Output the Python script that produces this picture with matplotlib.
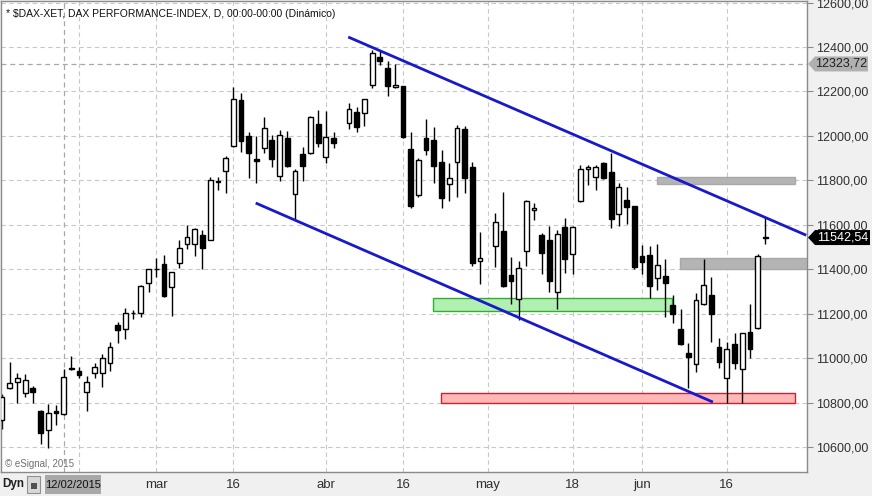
import matplotlib
matplotlib.use("Agg")
import matplotlib.pyplot as plt
from matplotlib.patches import Rectangle, Polygon
from matplotlib.transforms import IdentityTransform
from matplotlib import font_manager
import numpy as np
import pandas as pd

# ---------------- data ----------------
# trading-day slots (Xetra calendar as shown by the chart; Apr 3 and May 1 are empty slots)
dates = [d for d in pd.bdate_range("2015-02-02", "2015-06-23")
         if d.strftime("%Y-%m-%d") not in ("2015-04-06", "2015-05-25")]

opens = [10722, 10866, 10892, 10843, 10866, 10762, 10676, 10762, 10748, 10951,
         10942, 10848, 10933, 10933, 10978, 11149, 11131, 11201, 11203, 11338,
         11401, 11423, 11320, 11428, 11513, 11513, 11554, 11531, 11792, 11842,
         11954, 12161, 12000, 11896, 11945, 11981, 11819, 11990, 11738, 11918,
         11923, 12053, 11905, 11990, None, 12058, 12107, 12103, 12229, 12355,
         12305, 12220, 12224, 11941, 11734, 11990, 11981, 11882, 11783, 11882,
         12031, 11860, 11437, None, 11504, 11572, 11374, 11266, 11482, 11666,
         11554, 11531, 11297, 11590, 11468, 11707, 11853, 11815, 11878, 11837,
         11648, 11711, 11684, 11459, 11464, 11360, 11369, 11239, 11131, 11023,
         10973, 11243, 11284, 11050, 10910, 11063, 10949, 11117, 11135, 11546]
highs = [10838, 10982, 10933, 10928, 10874, 10766, 10793, 10789, 10951, 11009,
         10960, 10920, 10978, 11018, 11072, 11162, 11225, 11216, 11329, 11401,
         11450, 11464, 11388, 11531, 11599, 11585, 11576, 11815, 11815, 11909,
         12220, 12193, 12017, 12000, 12085, 12004, 12026, 12022, 11851, 11950,
         12089, 12116, 12112, 12017, None, 12148, 12130, 12168, 12386, 12382,
         12337, 12323, 12226, 12017, 11900, 12076, 12040, 11936, 11878, 12049,
         12044, 11882, 11567, None, 11653, 11747, 11455, 11437, 11711, 11698,
         11563, 11594, 11576, 11630, 11594, 11869, 11869, 11869, 11882, 11923,
         11788, 11770, 11686, 11509, 11504, 11513, 11446, 11284, 11221, 11068,
         11293, 11446, 11365, 11090, 11072, 11113, 11115, 11243, 11468, 11635]
lows = [10681, 10861, 10798, 10825, 10798, 10613, 10595, 10699, 10745, 10946,
        10910, 10762, 10910, 10870, 10942, 11068, 11086, 11176, 11185, 11297,
        11365, 11275, 11190, 11405, 11491, 11459, 11401, 11531, 11756, 11743,
        11950, 11927, 11810, 11788, 11923, 11860, 11797, 11860, 11621, 11797,
        11918, 11950, 11878, 11945, None, 12031, 12017, 12044, 12215, 12319,
        12179, 12215, 11990, 11675, 11725, 11914, 11788, 11675, 11707, 11725,
        11743, 11414, 11333, None, 11410, 11320, 11243, 11171, 11414, 11621,
        11378, 11297, 11221, 11383, 11378, 11702, 11779, 11756, 11806, 11585,
        11594, 11603, 11401, 11378, 11270, 11306, 11185, 11158, 11059, 10865,
        10937, 11239, 11072, 10955, 10798, 10951, 10798, 11000, 11130, 11513]
closes = [10825, 10888, 10910, 10901, 10848, 10663, 10753, 10753, 10915, 10955,
          10924, 10892, 10960, 11000, 11050, 11126, 11203, 11205, 11324, 11401,
          11403, 11280, 11388, 11495, 11545, 11581, 11495, 11801, 11797, 11900,
          12166, 11977, 11923, 11887, 12035, 11896, 12004, 11864, 11842, 11864,
          12085, 11968, 11995, 11968, None, 12121, 12040, 12166, 12373, 12337,
          12224, 12229, 11995, 11684, 11891, 11936, 11864, 11720, 11810, 12035,
          11810, 11428, 11450, None, 11612, 11324, 11347, 11405, 11707, 11675,
          11473, 11347, 11558, 11446, 11590, 11851, 11858, 11860, 11810, 11626,
          11770, 11680, 11410, 11432, 11324, 11419, 11338, 11198, 11063, 11005,
          11261, 11329, 11198, 10982, 11041, 10978, 11111, 11041, 11459, 11542.54]

# x-axis labels (slot dates)
tick_dates = ["2015-02-16", "2015-03-02", "2015-03-16", "2015-04-01", "2015-04-16",
              "2015-05-01", "2015-05-18", "2015-06-01", "2015-06-16"]
tick_labels = ["", "mar", "16", "abr", "16", "may", "18", "jun", "16"]
y_ticks = [10600, 10800, 11000, 11200, 11400, 11600, 11800, 12000, 12200, 12400, 12600]

# drawn channel lines (slot, price)
upper_line_x = [44.9, 104.3]
upper_line_y = [12445, 11553]
lower_line_x = [32.9, 92.2]
lower_line_y = [11698, 10802]

# drawn zones: (slot_start, slot_end, price_low, price_high)
zone_gray_top = (84.9, 102.9, 11783, 11815)
zone_gray_mid = (87.9, 104.6, 11401, 11450)
zone_green = (55.85, 86.95, 11210, 11270)
zone_red = (56.9, 102.9, 10799, 10842)

cursor_date = "2015-02-12"
cursor_price = 12323.72
last_price = closes[-1]

# ---------------- fonts ----------------
names = {f.name for f in font_manager.fontManager.ttflist}
arial = "Liberation Sans" if "Liberation Sans" in names else "DejaVu Sans"
narrow = "Liberation Sans Narrow" if "Liberation Sans Narrow" in names else arial

# ---------------- figure ----------------
W, H = 872, 496
fig = plt.figure(figsize=(W / 100, H / 100), dpi=100, facecolor="#f0f0f0")
ax = fig.add_axes([1 / W, (H - 472) / H, 806 / W, 471 / H])
ax.set_facecolor("white")

date_str = [d.strftime("%Y-%m-%d") for d in dates]
slot = {s: i for i, s in enumerate(date_str)}
x = np.arange(len(dates))

ax.set_xlim(-0.13, 104.4)
ax.set_ylim(10487.5, 12607)

# grid
grid_kw = dict(color="#c8c8c8", lw=0.8, ls=(0, (4, 3)), zorder=0)
for v in y_ticks:
    ax.axhline(v, **grid_kw)
xt = [slot[d] for d in tick_dates]
for t in xt:
    ax.axvline(t, **grid_kw)

# crosshair
ax.axvline(slot[cursor_date], color="#a8a8a8", lw=0.9, ls=(0, (4, 3)), zorder=0.5)
ax.axhline(cursor_price, color="#a8a8a8", lw=0.9, ls=(0, (4, 3)), zorder=0.5)

# zones
def zone(z, fc, ec):
    x0, x1, y0, y1 = z
    ax.add_patch(Rectangle((x0, y0), x1 - x0, y1 - y0, facecolor=fc, edgecolor=ec,
                           lw=1, zorder=1))

zone(zone_gray_top, "#b4b4b4", "#a8a8a8")
zone(zone_gray_mid, "#b4b4b4", "#a8a8a8")
zone(zone_green, "#b2efb2", "#30b030")
zone(zone_red, "#ffb8b8", "#d02030")

# candles
bw = 0.62
for i in x:
    o, h, l, c = opens[i], highs[i], lows[i], closes[i]
    if o is None:
        continue
    ax.plot([i, i], [l, h], color="black", lw=1, zorder=2, solid_capstyle="butt")
    up = c >= o
    lo, hi = min(o, c), max(o, c)
    ax.add_patch(Rectangle((i - bw / 2, lo), bw, max(hi - lo, 0.5),
                           facecolor="white" if up else "black",
                           edgecolor="black", lw=1, zorder=3))

# channel lines
ax.plot(upper_line_x, upper_line_y, color="#1818cc", lw=2, zorder=4,
        solid_capstyle="butt", clip_on=True)
ax.plot(lower_line_x, lower_line_y, color="#1818cc", lw=2, zorder=4,
        solid_capstyle="butt")

# axes styling
for s in ax.spines.values():
    s.set_color("#8a8a8a")
    s.set_linewidth(1)
ax.yaxis.tick_right()
ax.set_yticks(y_ticks)
ax.set_yticklabels([f"{v:.2f}".replace(".", ",") for v in y_ticks],
                   fontfamily=arial, fontsize=9, color="#303030")
ax.tick_params(axis="y", direction="out", length=4, color="#8a8a8a", pad=2.5)
ax.set_xticks(xt)
ax.set_xticklabels(tick_labels, fontfamily=narrow, fontsize=9.5, color="#303030")
ax.tick_params(axis="x", length=0, pad=5)

# title and copyright
ax.text(5 / 806, 1 - 13 / 471, "* $DAX-XET, DAX PERFORMANCE-INDEX, D, 00:00-00:00 (Dinámico)",
        transform=ax.transAxes, fontfamily=arial, fontsize=7.5, color="#101010",
        va="center", ha="left", zorder=6)
ax.text(4 / 806, 8 / 471, "© eSignal, 2015", transform=ax.transAxes,
        fontfamily=arial, fontsize=7, color="#707070", va="center", ha="left", zorder=6)

# price tags on the right axis
def tag(value, text, fc, tc, x_right):
    y = ax.transData.transform((0, value))[1]
    hh = 7.5
    pts = [(808, y), (815, y + hh), (x_right, y + hh), (x_right, y - hh), (815, y - hh)]
    fig.add_artist(Polygon(pts, closed=True, facecolor=fc, edgecolor="none",
                           transform=IdentityTransform(), zorder=10))
    fig.text((815 + x_right) / 2 / W, y / H, text, ha="center", va="center",
             fontfamily=arial, fontsize=9, color=tc, zorder=11)

tag(cursor_price, f"{cursor_price:.2f}".replace(".", ","), "#b0b0b0", "#202020", 868)
tag(last_price, f"{last_price:.2f}".replace(".", ","), "black", "white", 870)

# bottom bar: Dyn, icon and cursor date box
fig.text(2 / W, 1 - 484 / H, "Dyn", fontfamily=narrow, fontsize=8.5, fontweight="bold",
         color="#202020", va="center", ha="left")
fig.add_artist(Rectangle((27 / W, 1 - 493 / H), 13 / W, 17 / H, transform=fig.transFigure,
                         facecolor="#d8d8d8", edgecolor="#909090", lw=0.8))
fig.add_artist(Rectangle((30.5 / W, 1 - 489 / H), 6 / W, 6 / H, transform=fig.transFigure,
                         facecolor="#505050", edgecolor="none"))
fig.add_artist(Rectangle((45 / W, 1 - 494 / H), 56 / W, 19 / H, transform=fig.transFigure,
                         facecolor="#a8a8a8", edgecolor="none"))
fig.text(73 / W, 1 - 485 / H, "12/02/2015", fontfamily=narrow, fontsize=8,
         color="#101010", va="center", ha="center")

fig.savefig("out.png", dpi=100, facecolor=fig.get_facecolor())
